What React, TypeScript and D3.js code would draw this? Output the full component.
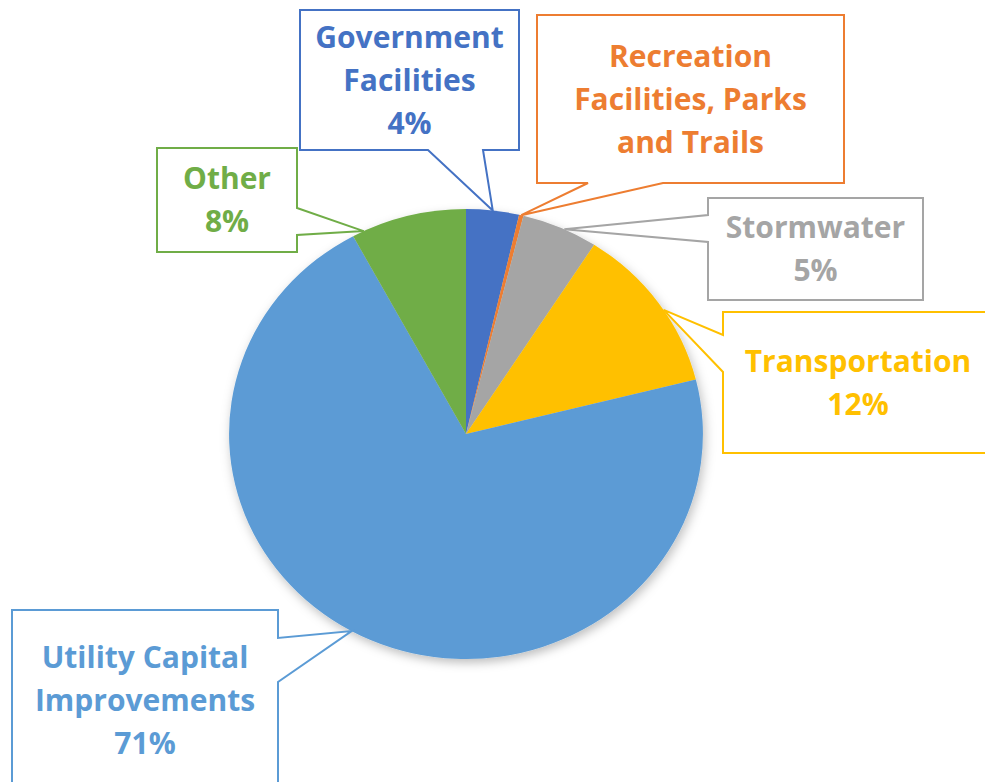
import React from "react";
import * as d3 from "d3";

// slice data, clockwise from 12 o'clock
const categories = [
  "Government Facilities",
  "Recreation Facilities, Parks and Trails",
  "Stormwater",
  "Transportation",
  "Utility Capital Improvements",
  "Other",
];
const shares = [3.6, 0.3, 5.2, 12.0, 71.0, 7.9];
const colors = ["#4472C4", "#ED7D31", "#A5A5A5", "#FFC000", "#5B9BD5", "#70AD47"];
const labelLines = [
  ["Government", "Facilities"],
  ["Recreation", "Facilities, Parks", "and Trails"],
  ["Stormwater"],
  ["Transportation"],
  ["Utility Capital", "Improvements"],
  ["Other"],
];
const showPercent = [true, false, true, true, true, true];

// callout boxes: box rect, side the pointer leaves from, pointer base offsets, anchor within slice
const callouts = [
  { x: 300, y: 10, w: 219, h: 140, side: "bottom", b0: 128, b1: 183, at: 0.5 },
  { x: 537, y: 15, w: 307, h: 168, side: "bottom", b0: 51, b1: 126, at: 0.5 },
  { x: 708, y: 198, w: 215, h: 102, side: "left", b0: 17, b1: 44, at: 0.56 },
  { x: 723, y: 312, w: 270, h: 141, side: "left", b0: 23, b1: 60, at: 0.55 },
  { x: 12, y: 610, w: 266, h: 180, side: "right", b0: 28, b1: 72, at: 0.52 },
  { x: 157, y: 148, w: 140, h: 104, side: "right", b0: 60, b1: 87, at: 0.1 },
];

const W = 985;
const H = 782;
const cx = 466;
const cy = 434;
const R = 225;
const sx = 1.053; // the original picture is slightly wider than tall

const FONT = "'Open Sans', sans-serif";
const FS = 30;
const LH = 43;
const CAP = 21;

type Datum = { name: string; value: number; color: string; i: number };

function calloutPath(c: (typeof callouts)[number], tip: [number, number]) {
  const { x, y, w, h, side, b0, b1 } = c;
  const r = x + w;
  const b = y + h;
  const p = d3.path();
  p.moveTo(x, y);
  p.lineTo(r, y);
  if (side === "right") {
    p.lineTo(r, y + b0);
    p.lineTo(tip[0], tip[1]);
    p.lineTo(r, y + b1);
  }
  p.lineTo(r, b);
  if (side === "bottom") {
    p.lineTo(x + b1, b);
    p.lineTo(tip[0], tip[1]);
    p.lineTo(x + b0, b);
  }
  p.lineTo(x, b);
  if (side === "left") {
    p.lineTo(x, y + b1);
    p.lineTo(tip[0], tip[1]);
    p.lineTo(x, y + b0);
  }
  p.closePath();
  return p.toString();
}

export default function App() {
  const data: Datum[] = categories.map((name, i) => ({
    name,
    value: shares[i],
    color: colors[i],
    i,
  }));

  const pie = d3
    .pie<Datum>()
    .value((d) => d.value)
    .sort(null);
  const arcs = pie(data);

  const arc = d3.arc<d3.PieArcDatum<Datum>>().innerRadius(0).outerRadius(R);
  const fmt = (v: number) => `${Math.round(v)}%`;

  return (
    <svg
      width={W}
      height={H}
      viewBox={`0 0 ${W} ${H}`}
      style={{ position: "absolute", left: 0, top: 0, background: "#fff" }}
    >
      <defs>
        <filter id="shadow" x="-20%" y="-20%" width="140%" height="140%">
          <feDropShadow dx="2" dy="4" stdDeviation="5" floodColor="#000" floodOpacity="0.25" />
        </filter>
      </defs>

      <g transform={`translate(${cx},${cy}) scale(${sx},1)`} filter="url(#shadow)">
        {arcs.map((a) => (
          <path key={a.data.name} d={arc(a) || ""} fill={a.data.color} />
        ))}
      </g>

      {arcs.map((a) => {
        const c = callouts[a.data.i];
        const ang = a.startAngle + c.at * (a.endAngle - a.startAngle);
        const tip: [number, number] = [cx + sx * R * Math.sin(ang), cy - R * Math.cos(ang)];
        const lines = showPercent[a.data.i]
          ? [...labelLines[a.data.i], fmt(a.data.value)]
          : labelLines[a.data.i];
        const blockH = (lines.length - 1) * LH + CAP;
        const y0 = c.y + c.h / 2 - blockH / 2 + CAP;
        return (
          <g key={a.data.name}>
            <path
              d={calloutPath(c, tip)}
              fill="#fff"
              stroke={a.data.color}
              strokeWidth={2}
              strokeLinejoin="miter"
            />
            {lines.map((t, k) => (
              <text
                key={k}
                x={c.x + c.w / 2}
                y={y0 + k * LH}
                textAnchor="middle"
                fontFamily={FONT}
                fontWeight={700}
                fontSize={FS}
                fill={a.data.color}
              >
                {t}
              </text>
            ))}
          </g>
        );
      })}
    </svg>
  );
}
